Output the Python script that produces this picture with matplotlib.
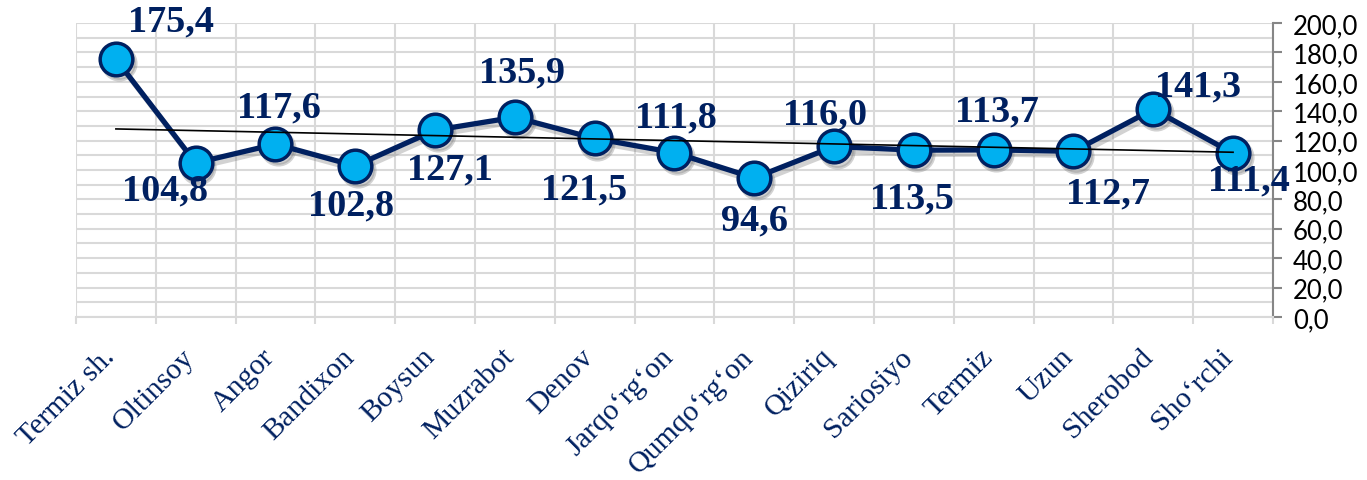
import numpy as np
import matplotlib
matplotlib.use("Agg")
import matplotlib.pyplot as plt
from matplotlib.ticker import FixedLocator, MultipleLocator
from matplotlib.transforms import ScaledTranslation

# data
districts = ["Termiz sh.", "Oltinsoy", "Angor", "Bandixon", "Boysun", "Muzrabot",
             "Denov", "Jarqo\u02bbrg\u02bbon", "Qumqo\u02bbrg\u02bbon", "Qiziriq",
             "Sariosiyo", "Termiz", "Uzun", "Sherobod", "Sho\u02bbrchi"]
values = [175.4, 104.8, 117.6, 102.8, 127.1, 135.9, 121.5, 111.8, 94.6,
          116.0, 113.5, 113.7, 112.7, 141.3, 111.4]

# label offsets from marker centre, in pixels (dx, dy up)
label_dx = [55, -31, 3, -4, 15, 7, -11, 1, 0, -9, -2, 3, 34, 45, 16]
label_dy = [38, -27, 37, -39, -39, 45, -51, 36, -42, 32, -48, 39, -42, 23, -27]

navy = "#002060"
cyan = "#00B0F0"
grid_c = "#D9D9D9"
serif = ["Liberation Serif", "DejaVu Serif"]

fig = plt.figure(figsize=(13.67, 4.81), dpi=100)
ax = fig.add_axes([0.0556, 0.339, 0.8756, 0.611])

x = np.arange(len(values))

# soft shadow under the series
shadow = ax.transData + ScaledTranslation(2/72, -3/72, fig.dpi_scale_trans)
ax.plot(x, values, color="#7f7f7f", alpha=0.35, lw=3.8, marker="o", ms=23.5,
        mfc="#7f7f7f", mec="#7f7f7f", mew=2.5, transform=shadow, zorder=2)

ax.plot(x, values, color=navy, lw=3.8, marker="o", ms=23.5, mfc=cyan,
        mec=navy, mew=2.5, zorder=3)

# linear trend line
coef = np.polyfit(x, values, 1)
ax.plot(x, np.polyval(coef, x), color="black", lw=1.2, zorder=4)

for i, v in enumerate(values):
    ax.annotate(f"{v:.1f}".replace(".", ","), (x[i], v),
                xytext=(label_dx[i], label_dy[i]), textcoords="offset pixels",
                ha="center", va="center", fontsize=27.5, fontweight="bold",
                family=serif, color=navy, zorder=5)

ax.set_xlim(-0.5, len(values) - 0.5)
ax.set_ylim(0, 200)

# y axis on the right
ax.yaxis.tick_right()
ax.yaxis.set_minor_locator(MultipleLocator(10))
yt = np.arange(0, 201, 20)
ax.set_yticks(yt)
ax.set_yticklabels([f"{t:.1f}".replace(".", ",") for t in yt], family="Lato",
                   fontsize=18.5)
ax.tick_params(axis="y", which="major", length=6.5, width=1.5, color="#868686", pad=8)
ax.tick_params(axis="y", which="minor", length=0)

# categories
ax.set_xticks(x)
ax.set_xticklabels(districts, rotation=45, ha="right", rotation_mode="anchor",
                   family=serif, fontsize=21.5, color=navy)
ax.xaxis.set_minor_locator(FixedLocator(np.arange(-0.5, len(values), 1)))
ax.tick_params(axis="x", which="major", length=0, pad=19)
ax.tick_params(axis="x", which="minor", length=5, width=1.5, color=grid_c)
shift = ScaledTranslation(-14/100, 0, fig.dpi_scale_trans)
for lab in ax.get_xticklabels():
    lab.set_transform(lab.get_transform() + shift)

ax.grid(which="both", axis="y", color=grid_c, lw=1.5)
ax.grid(which="minor", axis="x", color=grid_c, lw=1.5)
ax.set_axisbelow(True)

for s in ["top", "left"]:
    ax.spines[s].set_visible(False)
ax.spines["bottom"].set_color(grid_c)
ax.spines["bottom"].set_linewidth(1.5)
ax.spines["right"].set_color("#868686")
ax.spines["right"].set_linewidth(1.5)

fig.savefig("out.png", dpi=100)
